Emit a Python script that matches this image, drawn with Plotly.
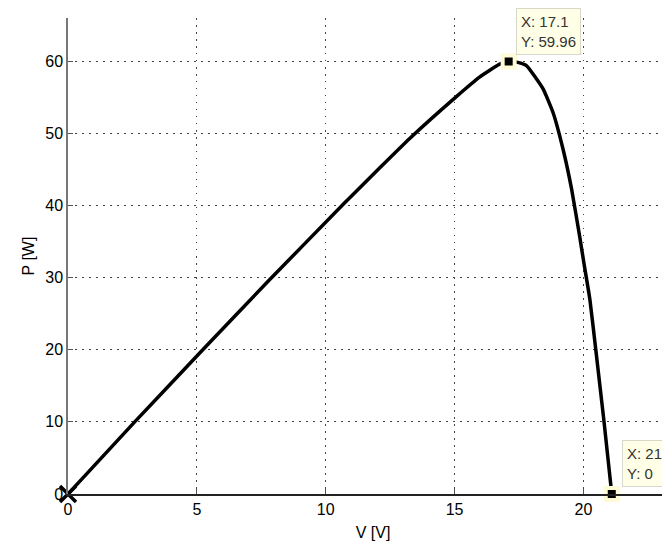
import plotly.graph_objects as go

# P-V curve
voltage = [0, 2.58, 5.23, 7.82, 10.69, 12.09, 13.26, 15.07, 15.97, 16.75, 17.1,
           17.45, 17.79, 18.43, 18.82, 19.21, 19.54, 19.86, 20.02, 20.25, 20.48, 20.80, 21.1]
power = [0, 9.96, 20.0, 29.7, 40.2, 45.2, 49.3, 55.1, 57.8, 59.6, 59.96,
         59.85, 59.4, 56.2, 52.9, 47.8, 42.3, 35.6, 32.0, 27.0, 20.0, 10.0, 0]

tip_v = [17.1, 21.1]
tip_p = [59.96, 0]
tip_labels = ["17.1", "21.1"]
tip_p_labels = ["59.96", "0"]

x_ticks = [0, 5, 10, 15, 20, 25]
y_ticks = [0, 10, 20, 30, 40, 50, 60]

FONT = "Liberation Sans, Arial, sans-serif"

fig = go.Figure()
fig.add_trace(go.Scatter(x=voltage, y=power, mode="lines",
                         line=dict(color="black", width=3.5, shape="spline", smoothing=0.4),
                         hoverinfo="skip", showlegend=False))
fig.add_trace(go.Scatter(x=[voltage[0]], y=[power[0]], mode="markers",
                         marker=dict(symbol="x-thin", size=16, line=dict(color="black", width=3.5)),
                         showlegend=False, cliponaxis=False))
fig.add_trace(go.Scatter(x=tip_v, y=tip_p, mode="markers",
                         marker=dict(symbol="square", size=12, color="black",
                                     line=dict(color="#FFFBD6", width=4)),
                         showlegend=False, cliponaxis=False))

shifts = [(7, 7), (10, 7)]
for v, p, vl, pl, (xs, ys) in zip(tip_v, tip_p, tip_labels, tip_p_labels, shifts):
    fig.add_annotation(x=v, y=p, xref="x", yref="y", showarrow=False,
                       text=f"X: {vl}<br>Y: {pl}", align="left",
                       xanchor="left", yanchor="bottom", xshift=xs, yshift=ys,
                       font=dict(family=FONT, size=15, color="#333"),
                       bgcolor="#FFFFE8", bordercolor="#D8D8C8", borderwidth=1, borderpad=4)

axis_common = dict(showgrid=True, gridcolor="#444", griddash="1.5px,5.5px", gridwidth=1.2,
                   zeroline=False, ticks="inside", ticklen=5, tickcolor="#555",
                   tickfont=dict(family=FONT, size=16, color="black"),
                   showline=True)

fig.update_xaxes(range=[0, 23.67], tickvals=x_ticks, linecolor="#222", linewidth=1.5,
                 title=dict(text="V [V]", font=dict(family=FONT, size=16, color="black"), standoff=10),
                 **axis_common)
fig.update_yaxes(range=[0, 66], tickvals=y_ticks, linecolor="#777", linewidth=1.5,
                 title=dict(text="P [W]", font=dict(family=FONT, size=16, color="black"), standoff=7),
                 **axis_common)

fig.update_layout(width=670, height=539, margin=dict(l=60, r=0, t=10, b=53),
                  plot_bgcolor="white", paper_bgcolor="white",
                  font=dict(family=FONT))

fig.write_html("out.html")
